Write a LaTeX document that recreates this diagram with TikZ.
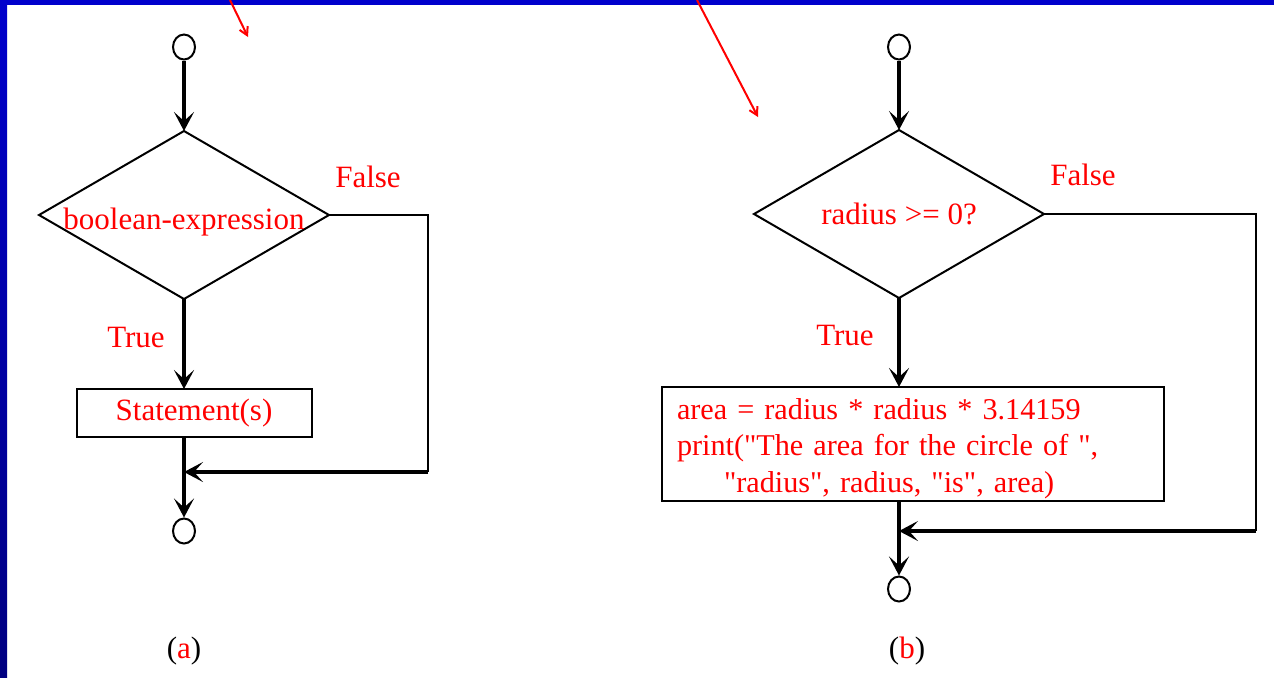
\documentclass[tikz,border=0pt]{standalone}
\usepackage{fontspec}
\setmainfont{Liberation Serif}
\usetikzlibrary{arrows.meta,shapes.geometric}
\definecolor{slideblue}{RGB}{0,0,204}
\definecolor{slidenavy}{RGB}{0,0,128}

\begin{document}
\begin{tikzpicture}[x=0.5pt,y=-0.5pt,
    font=\fontsize{15.5}{18.25}\selectfont,
    term/.style={ellipse,draw,line width=1pt,minimum width=11pt,minimum height=12.5pt,inner sep=0pt},
    decide/.style={diamond,draw,line width=1pt,minimum width=145pt,minimum height=84pt,inner sep=0pt,outer sep=0pt},
    stmt/.style={rectangle,draw,line width=1pt,text=red,outer sep=0pt},
    lbl/.style={text=red},
    flow/.style={line width=2pt,-{Stealth[length=9.5pt,width=10pt,inset=4.5pt]}},
    note/.style={red,line width=1pt,-{Straight Barb[length=4pt,width=4.5pt]}}]
    \useasboundingbox (0,0) rectangle (1274,677);
    \fill[white] (0,0) rectangle (1274,677);
    \shade[top color=slideblue,bottom color=slidenavy] (0,0) rectangle (7,677);
    \fill[slideblue] (0,0) rectangle (1274,5);

    \node[term] (sA) at (184,47) {};
    \node[decide,label={[lbl,yshift=-3.5pt]center:{boolean-expression}}] (dA) at (184,215) {};
    \node[stmt,minimum width=117.5pt,minimum height=24pt] (bA) at (194,413) {Statement(s)};
    \node[term] (eA) at (184,531) {};
    \coordinate (cA) at (428,472);
    \coordinate (jA) at (184,472);
    \draw[flow] (sA) -- (dA);
    \draw[flow] (dA.south) -- (dA.south |- bA.north);
    \draw[flow] (dA.south |- bA.south) -- (eA);
    \draw[line width=1pt] (dA.east) -| (cA);
    \draw[flow] (cA) -- (jA);
    \node[lbl] (fA) at (368,177) {False};
    \node[lbl] (tA) at (136,337) {True};
    \node (capA) at (184,651) {(\textcolor{red}{a})};

    \node[term] (sB) at (899,47) {};
    \node[decide,label={[lbl]center:{radius >= 0?}}] (dB) at (899,214) {};
    \node[stmt,font=\fontsize{15.1}{18.25}\selectfont,text width=236pt,inner xsep=7.5pt,inner ysep=0pt,
        align=left,minimum height=57pt] (bB) at (913,444)
        {\rule{0pt}{15pt}area = radius * radius * 3.14159\\
         print(\textquotedbl The area for the circle of \textquotedbl,\\
         \hspace*{23.5pt}\textquotedbl radius\textquotedbl, radius, \textquotedbl is\textquotedbl, area)};
    \node[term] (eB) at (899,589) {};
    \coordinate (cB) at (1256,531);
    \coordinate (jB) at (899,531);
    \draw[flow] (sB) -- (dB);
    \draw[flow] (dB.south) -- (dB.south |- bB.north);
    \draw[flow] (dB.south |- bB.south) -- (eB);
    \draw[line width=1pt] (dB.east) -| (cB);
    \draw[flow] (cB) -- (jB);
    \node[lbl] (fB) at (1083,175) {False};
    \node[lbl] (tB) at (845,335) {True};
    \node (capB) at (907,651) {(\textcolor{red}{b})};

    \coordinate (noteA) at (230,0);
    \coordinate (tipA) at (248,37);
    \coordinate (noteB) at (697,0);
    \coordinate (tipB) at (758,117);
    \draw[note] (noteA) -- (tipA);
    \draw[note] (noteB) -- (tipB);
\end{tikzpicture}
\end{document}
